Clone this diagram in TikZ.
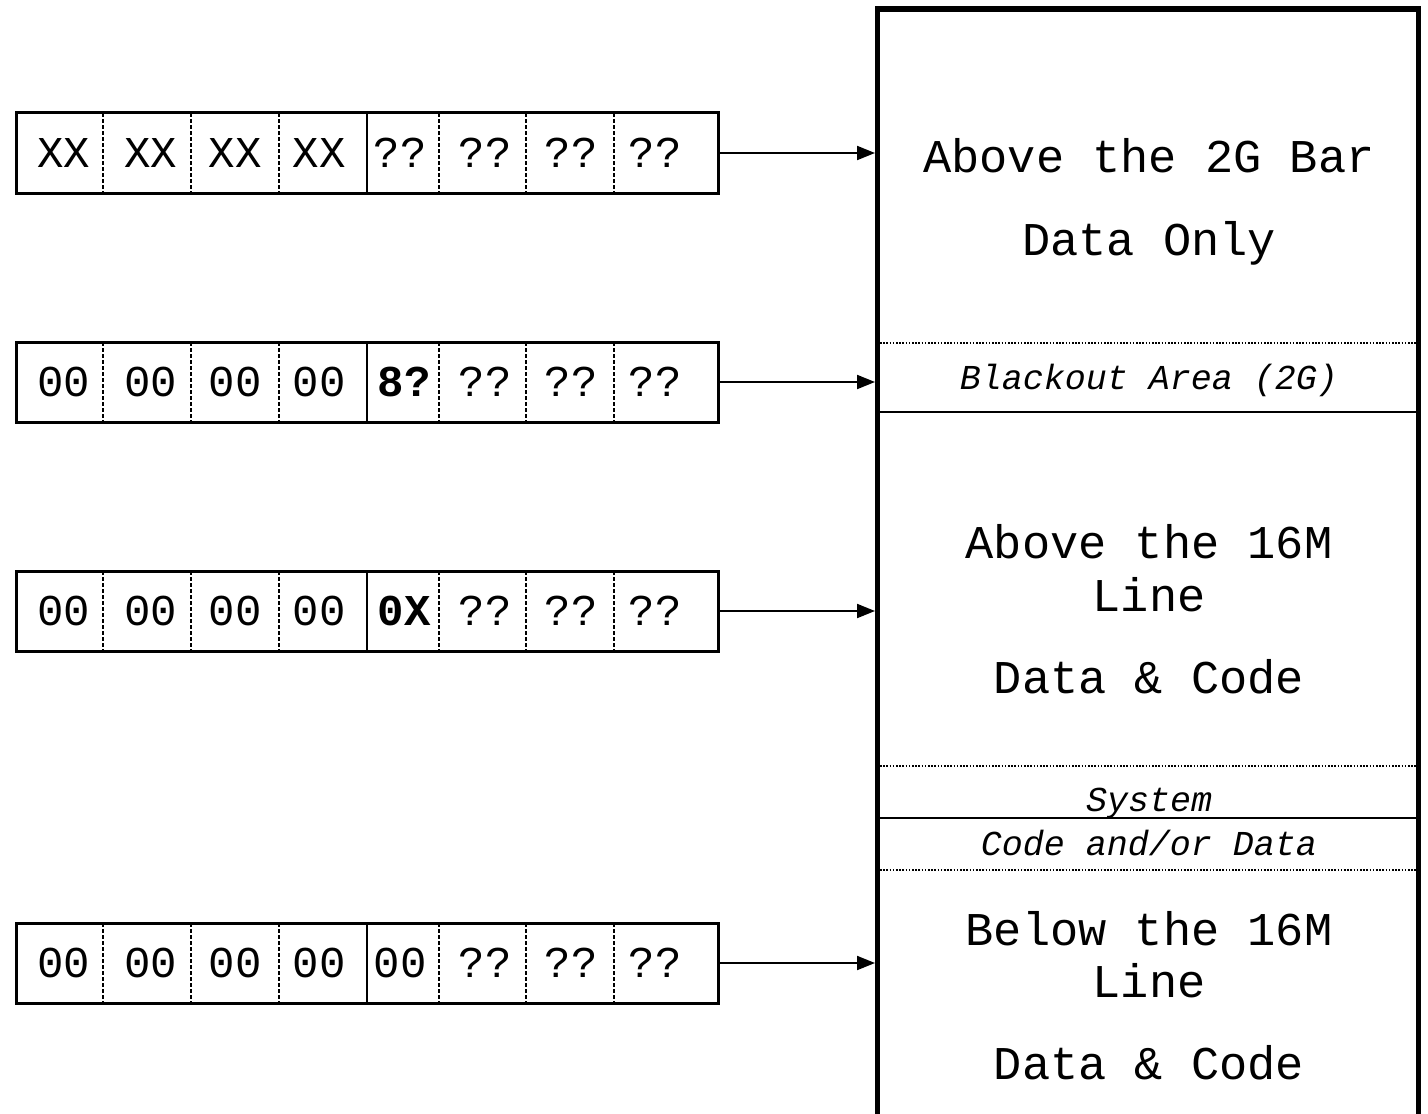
\documentclass[tikz,border=0pt]{standalone}
\usepackage{fontspec}
\setmonofont{Liberation Mono}
\usetikzlibrary{arrows.meta,positioning}

\begin{document}
\begin{tikzpicture}[x=0.5pt,y=-0.5pt,
    rowbox/.style={draw,line width=1.5pt,minimum width=351pt,minimum height=40pt,inner sep=0pt,outer sep=0pt},
    bytetxt/.style={font=\ttfamily\fontsize{22}{26}\selectfont,text height=14.5pt,text depth=0pt,inner sep=0pt},
    memtxt/.style={font=\ttfamily\fontsize{23.5}{28}\selectfont,text height=15.5pt,text depth=0pt,inner sep=0pt},
    memsmall/.style={font=\ttfamily\itshape\fontsize{17.5}{21}\selectfont,text height=11.5pt,text depth=0pt,inner sep=0pt},
    bytesep/.style={line width=1pt,dash pattern=on 2pt off 1pt},
    areasep/.style={line width=1pt,dash pattern=on 0.8pt off 0.8pt},
    ptr/.style={line width=1pt,-{Triangle[length=9pt,width=7pt]}}]
\useasboundingbox (0,0) rectangle (1428,1113);
% address rows
\node[rowbox] (row1) at (367,153) {};
\draw[bytesep] (103,113) -- (103,193) (191,113) -- (191,193) (279,113) -- (279,193)
  (439,113) -- (439,193) (526,113) -- (526,193) (614,113) -- (614,193);
\draw[line width=1pt] (367,113) -- (367,193);
\node[bytetxt] (r11) at (64,153) {XX};
\node[bytetxt] (r12) at (151,153) {XX};
\node[bytetxt] (r13) at (235,153) {XX};
\node[bytetxt] (r14) at (319,153) {XX};
\node[bytetxt] (r15) at (400,153) {??};
\node[bytetxt] (r16) at (485,153) {??};
\node[bytetxt] (r17) at (571,153) {??};
\node[bytetxt] (r18) at (655,153) {??};
\node[rowbox] (row2) at (367,382) {};
\draw[bytesep] (103,342) -- (103,422) (191,342) -- (191,422) (279,342) -- (279,422)
  (439,342) -- (439,422) (526,342) -- (526,422) (614,342) -- (614,422);
\draw[line width=1pt] (367,342) -- (367,422);
\node[bytetxt] (r21) at (64,382) {00};
\node[bytetxt] (r22) at (151,382) {00};
\node[bytetxt] (r23) at (235,382) {00};
\node[bytetxt] (r24) at (319,382) {00};
\node[bytetxt] (r25) at (404,382) {\bfseries 8?};
\node[bytetxt] (r26) at (485,382) {??};
\node[bytetxt] (r27) at (571,382) {??};
\node[bytetxt] (r28) at (655,382) {??};
\node[rowbox] (row3) at (367,611) {};
\draw[bytesep] (103,571) -- (103,651) (191,571) -- (191,651) (279,571) -- (279,651)
  (439,571) -- (439,651) (526,571) -- (526,651) (614,571) -- (614,651);
\draw[line width=1pt] (367,571) -- (367,651);
\node[bytetxt] (r31) at (64,611) {00};
\node[bytetxt] (r32) at (151,611) {00};
\node[bytetxt] (r33) at (235,611) {00};
\node[bytetxt] (r34) at (319,611) {00};
\node[bytetxt] (r35) at (404,611) {\bfseries 0X};
\node[bytetxt] (r36) at (485,611) {??};
\node[bytetxt] (r37) at (571,611) {??};
\node[bytetxt] (r38) at (655,611) {??};
\node[rowbox] (row4) at (367,963) {};
\draw[bytesep] (103,923) -- (103,1003) (191,923) -- (191,1003) (279,923) -- (279,1003)
  (439,923) -- (439,1003) (526,923) -- (526,1003) (614,923) -- (614,1003);
\draw[line width=1pt] (367,923) -- (367,1003);
\node[bytetxt] (r41) at (64,963) {00};
\node[bytetxt] (r42) at (151,963) {00};
\node[bytetxt] (r43) at (235,963) {00};
\node[bytetxt] (r44) at (319,963) {00};
\node[bytetxt] (r45) at (400,963) {00};
\node[bytetxt] (r46) at (485,963) {??};
\node[bytetxt] (r47) at (571,963) {??};
\node[bytetxt] (r48) at (655,963) {??};
% storage column
\draw[line width=2.7pt] (877.5,1130) |- (1418.5,9) -- (1418.5,1130);
\draw[areasep] (880,343) -- (1416,343);
\draw[line width=1pt] (880,412) -- (1416,412);
\draw[areasep] (880,766) -- (1416,766);
\draw[line width=1pt] (880,818) -- (1416,818);
\draw[areasep] (880,870) -- (1416,870);
\node[memtxt] (bar1) at (1149,157) {Above the 2G Bar};
\node[memtxt] (bar2) at (1149,240) {Data Only};
\node[memsmall] (blk) at (1149,378) {Blackout Area (2G)};
\node[memtxt] (up1) at (1149,543) {Above the 16M};
\node[memtxt] (up2) at (1149,596) {Line};
\node[memtxt] (up3) at (1149,678) {Data \& Code};
\node[memsmall] (sys1) at (1149,800) {System};
\node[memsmall] (sys2) at (1149,844) {Code and/or Data};
\node[memtxt] (lo1) at (1149,930) {Below the 16M};
\node[memtxt] (lo2) at (1149,982) {Line};
\node[memtxt] (lo3) at (1149,1064) {Data \& Code};
% pointers
\coordinate (memedge) at (875,0);
\draw[ptr] (row1.east) -- (row1.east -| memedge);
\draw[ptr] (row2.east) -- (row2.east -| memedge);
\draw[ptr] (row3.east) -- (row3.east -| memedge);
\draw[ptr] (row4.east) -- (row4.east -| memedge);
\end{tikzpicture}
\end{document}
